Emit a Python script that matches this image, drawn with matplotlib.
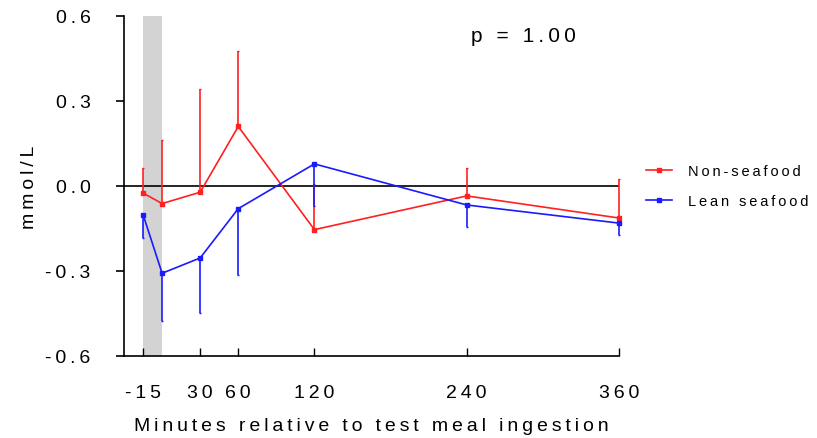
import matplotlib.pyplot as plt
from matplotlib.lines import Line2D
import numpy as np

plt.rcParams['font.family'] = ['Liberation Sans', 'DejaVu Sans']

minutes = [-15, 0, 30, 60, 120, 240, 360]
non_seafood = [-0.025, -0.062, -0.022, 0.21, -0.154, -0.035, -0.113]
non_seafood_err = [0.088, 0.224, 0.365, 0.266, 0.161, 0.099, 0.138]   # upper only
lean_seafood = [-0.101, -0.308, -0.254, -0.080, 0.078, -0.067, -0.131]
lean_seafood_err = [0.084, 0.170, 0.194, 0.234, 0.148, 0.078, 0.042]  # lower only

xticks = [-15, 30, 60, 120, 240, 360]
yticks = [-0.6, -0.3, 0.0, 0.3, 0.6]
ytick_labels = ['-0.6', '-0.3', '0.0', '0.3', '0.6']

RED = '#ff2020'
BLUE = '#1a1aff'


def spaced(s):
    # the original has wide letter spacing
    return '\u2009'.join(s)


fig = plt.figure(figsize=(8.17, 4.39), dpi=100)
ax = fig.add_axes([0.1518, 0.1868, 0.6059, 0.7745])

# meal window
ax.axvspan(-15, 0, color='#d3d3d3', lw=0, zorder=0)
ax.axhline(0, color='black', lw=1.2, zorder=1)

zeros = np.zeros(len(minutes))
ax.errorbar(minutes, non_seafood, yerr=[zeros, non_seafood_err], color=RED,
            lw=1.2, marker='s', ms=3, capsize=1, elinewidth=1.2, zorder=3, clip_on=False)
ax.errorbar(minutes, lean_seafood, yerr=[lean_seafood_err, zeros], color=BLUE,
            lw=1.2, marker='s', ms=3, capsize=1, elinewidth=1.2, zorder=3, clip_on=False)

ax.set_xlim(-30, 360)
ax.set_ylim(-0.6, 0.6)
ax.set_xticks(xticks)
ax.set_xticklabels([spaced(str(t)) for t in xticks])
ax.set_yticks(yticks)
ax.set_yticklabels([spaced(t) for t in ytick_labels])

for s in ['top', 'right']:
    ax.spines[s].set_visible(False)
ax.spines['left'].set_linewidth(1.2)
ax.spines['bottom'].set_linewidth(1.2)
ax.tick_params(axis='x', direction='in', length=6, width=1, labelsize=14, pad=20)
ax.tick_params(axis='y', direction='out', length=6, width=1.2, labelsize=14, pad=18)

ax.set_ylabel(spaced('mmol/L'), fontsize=14, labelpad=5)
ax.set_xlabel(spaced('Minutes relative to test meal ingestion'), fontsize=14, labelpad=12)

ax.text(285, 0.53, spaced('p = 1.00'), fontsize=15, ha='center', va='center')

handles = [Line2D([], [], color=RED, lw=1.2, marker='s', ms=2.5),
           Line2D([], [], color=BLUE, lw=1.2, marker='s', ms=2.5)]
ax.legend(handles, [spaced('Non-seafood'), spaced('Lean seafood')],
          loc='center left', bbox_to_anchor=(1.033, 0.5), frameon=False, fontsize=10.5,
          handlelength=1.8, handletextpad=1.1, labelspacing=1.1, borderaxespad=0.3)

fig.savefig('out.png', dpi=100)
